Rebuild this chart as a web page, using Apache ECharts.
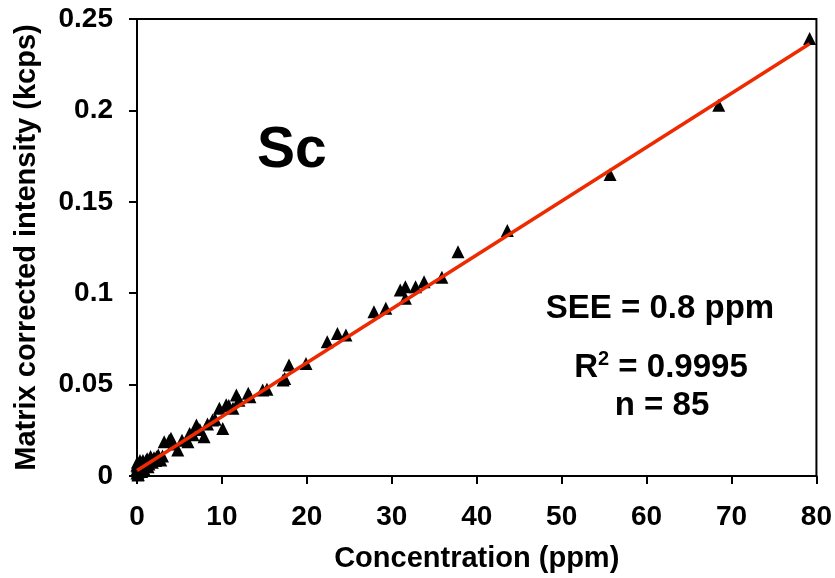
<!DOCTYPE html>
<html>
<head>
<meta charset="utf-8">
<script src="https://cdn.jsdelivr.net/npm/echarts@6/dist/echarts.min.js"></script>
<style>html,body{margin:0;padding:0;background:#fff}#c{width:835px;height:578px}</style>
</head>
<body>
<div id="c"></div>
<script>
// Concentration (ppm) of each sample
const concentration = [
  79.2, 68.5, 55.7, 43.6, 37.8, 35.9, 33.8, 32.8, 31.6, 31.6,
  31.0, 29.3, 27.9, 24.6, 23.6, 22.4, 19.9, 17.9, 17.4, 17.2,
  14.8, 13.1, 11.7, 10.5, 11.3, 9.7, 10.1, 8.9, 7.9, 7.0,
  6.2, 6.0, 4.8, 4.0, 3.2, 2.8, 2.5, 1.6, 1.3, 1.1,
  0.5, 0.1, 0.0,
  13.3, 12.0, 10.8, 15.3, 3.8, 4.3, 5.3, 6.6, 7.4, 8.3,
  9.2, 2.0, 2.2, 1.8, 1.5, 0.9, 0.7, 0.4, 0.3, 0.2,
  0.1, 0.05, 0.0, 0.0, 0.15, 0.3, 0.6, 0.8, 1.0, 1.2,
  1.4, 1.7, 2.3, 2.6, 3.0, 0.25, 0.45, 0.55, 0.7, 0.05,
  0.1, 0.35
];
// Matrix corrected intensity (kcps)
const intensity = [
  0.2393, 0.2028, 0.1650, 0.1343, 0.1227, 0.1087, 0.1063, 0.1035, 0.1035, 0.0972,
  0.1017, 0.0917, 0.0899, 0.0771, 0.0780, 0.0735, 0.0616, 0.0607, 0.0534, 0.0525,
  0.0470, 0.0452, 0.0443, 0.0390, 0.0370, 0.0370, 0.0260, 0.0306, 0.0215, 0.0279,
  0.0233, 0.0188, 0.0142, 0.0206, 0.0188, 0.0088, 0.0115, 0.0106, 0.0050, 0.0088,
  0.0071, 0.0044, 0.0016,
  0.0434, 0.0415, 0.0385, 0.0475, 0.0195, 0.0175, 0.0195, 0.0225, 0.0255, 0.0285,
  0.0310, 0.0100, 0.0085, 0.0075, 0.0090, 0.0060, 0.0085, 0.0050, 0.0065, 0.0030,
  0.0020, 0.0055, 0.0035, 0.0060, 0.0008, 0.0025, 0.0035, 0.0040, 0.0075, 0.0095,
  0.0065, 0.0095, 0.0105, 0.0095, 0.0110, 0.0045, 0.0060, 0.0025, 0.0055, 0.0075,
  0.0005, 0.0085
];
// Regression line end points
const fitX = [0, 79.2];
const fitY = [0.0030, 0.2365];
// Axis ticks
const xTicks = [0, 10, 20, 30, 40, 50, 60, 70, 80];
const yTicks = [0, 0.05, 0.1, 0.15, 0.2, 0.25];
// Annotations
const elementLabel = 'Sc';
const statSEE = 'SEE = 0.8 ppm';
const statR2 = '0.9995';
const statN = 'n = 85';

const FONT = '"Liberation Sans", Arial, sans-serif';
const chart = echarts.init(document.getElementById('c'));
const pts = concentration.map((x, i) => [x, intensity[i]]);
const fit = fitX.map((x, i) => [x, fitY[i]]);

chart.setOption({
  animation: false,
  backgroundColor: '#fff',
  grid: { left: 137, right: 16, top: 19, bottom: 102, show: true, borderColor: '#000', borderWidth: 2 },
  xAxis: {
    type: 'value', min: xTicks[0], max: xTicks[xTicks.length - 1], interval: xTicks[1] - xTicks[0],
    name: 'Concentration (ppm)', nameLocation: 'middle', nameGap: 68,
    nameTextStyle: { fontFamily: FONT, fontWeight: 'bold', fontSize: 29, color: '#000' },
    axisLine: { lineStyle: { color: '#000', width: 2 } },
    axisTick: { show: true, length: 8, lineStyle: { color: '#000', width: 2 } },
    axisLabel: { margin: 27, fontFamily: FONT, fontWeight: 'bold', fontSize: 28, color: '#000' },
    splitLine: { show: false }
  },
  yAxis: {
    type: 'value', min: yTicks[0], max: yTicks[yTicks.length - 1], interval: yTicks[1] - yTicks[0],
    name: 'Matrix corrected intensity (kcps)', nameLocation: 'middle', nameGap: 96,
    nameTextStyle: { fontFamily: FONT, fontWeight: 'bold', fontSize: 29, color: '#000' },
    axisLine: { lineStyle: { color: '#000', width: 2 } },
    axisTick: { show: true, length: 8, lineStyle: { color: '#000', width: 2 } },
    axisLabel: { margin: 24, fontFamily: FONT, fontWeight: 'bold', fontSize: 28, color: '#000' },
    splitLine: { show: false }
  },
  series: [
    { type: 'scatter', data: pts, symbol: 'triangle', symbolSize: 13, itemStyle: { color: '#000', opacity: 1 }, z: 2 },
    { type: 'line', data: fit, showSymbol: false, symbol: 'none', lineStyle: { color: '#ee2a00', width: 3.5 }, z: 3 }
  ],
  graphic: [
    { type: 'text', left: 257, top: 123, style: { text: elementLabel, font: 'bold 57px ' + FONT, fill: '#000' } },
    { type: 'text', x: 660, y: 309, style: { text: statSEE, font: 'bold 33px ' + FONT, fill: '#000', textAlign: 'center', textVerticalAlign: 'middle' } },
    { type: 'text', x: 661, y: 367, style: { text: '{a|R}{s|2}{a| = ' + statR2 + '}', textAlign: 'center', textVerticalAlign: 'middle',
        rich: { a: { font: 'bold 33px ' + FONT, fill: '#000', verticalAlign: 'bottom' }, s: { font: 'bold 20px ' + FONT, fill: '#000', verticalAlign: 'top', padding: [0,0,15,0] } } } },
    { type: 'text', x: 662, y: 406, style: { text: statN, font: 'bold 33px ' + FONT, fill: '#000', textAlign: 'center', textVerticalAlign: 'middle' } }
  ]
});
</script>
</body>
</html>
